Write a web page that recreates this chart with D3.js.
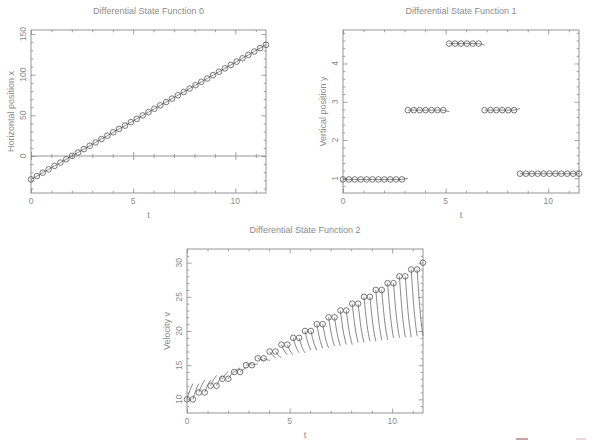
<!DOCTYPE html>
<html>
<head>
<meta charset="utf-8">
<script src="https://cdn.jsdelivr.net/npm/d3@7"></script>
<style>
  body { margin: 0; background: #fff; }
  svg { display: block; font-family: "Liberation Sans", Arial, sans-serif; }
  .lbl { fill: #8c8c8c; }
</style>
</head>
<body>
<svg id="chart" width="598" height="440"></svg>
<script>

// shooting node times
var nodeTimes = [0, 0.2875, 0.575, 0.8625, 1.15, 1.4375, 1.725, 2.0125, 2.3, 2.5875,
                 2.875, 3.1625, 3.45, 3.7375, 4.025, 4.3125, 4.6, 4.8875, 5.175, 5.4625,
                 5.75, 6.0375, 6.325, 6.6125, 6.9, 7.1875, 7.475, 7.7625, 8.05, 8.3375,
                 8.625, 8.9125, 9.2, 9.4875, 9.775, 10.0625, 10.35, 10.6375, 10.925, 11.2125, 11.5];

// state 0 : horizontal position x
var posX = [-28.8, -24.7, -20.5, -16.4, -12.2, -8.1, -4.0, 0.2, 4.3, 8.5,
            12.6, 16.7, 20.9, 25.0, 29.2, 33.3, 37.4, 41.6, 45.7, 49.9,
            54.0, 58.1, 62.3, 66.4, 70.6, 74.7, 78.8, 83.0, 87.1, 91.3,
            95.4, 99.5, 103.7, 107.8, 112.0, 116.1, 120.2, 124.4, 128.5, 132.7, 136.8];

// state 1 : vertical position y
var posY = [0.97, 0.97, 0.97, 0.97, 0.97, 0.97, 0.97, 0.97, 0.97, 0.97, 0.97,
            2.78, 2.78, 2.78, 2.78, 2.78, 2.78, 2.78,
            4.52, 4.52, 4.52, 4.52, 4.52, 4.52,
            2.78, 2.78, 2.78, 2.78, 2.78, 2.78,
            1.12, 1.12, 1.12, 1.12, 1.12, 1.12, 1.12, 1.12, 1.12, 1.12, 1.12];
// trajectory ends that do not meet the next node
var posYTailIdx = [10, 17, 23, 29];
var posYTailEnd = [1.0, 2.74, 4.48, 2.82];

// state 2 : velocity v
var velocity = [10, 10, 11, 11, 12, 12, 13, 13, 14, 14, 15, 15, 16, 16, 17, 17, 18, 18, 19, 19,
                20, 20, 21, 21, 22, 22, 23, 23, 24, 24, 25, 25, 26, 26, 27, 27, 28, 28, 29, 29, 30];
var velMid = [11.33, 11.33, 12.04, 12.04, 12.87, 12.87, 13.64, 13.64, 14.35, 14.35,
              15.12, 15.12, 15.81, 15.81, 16.44, 16.44, 17.07, 17.07, 17.64, 17.64,
              18.26, 18.26, 18.83, 18.83, 19.40, 19.40, 19.90, 19.90, 20.47, 20.47,
              20.97, 20.97, 21.47, 21.47, 22.04, 22.04, 22.48, 22.48, 22.99, 22.99];
var velEnd = [12.3, 12.3, 12.8, 12.8, 13.5, 13.5, 14.1, 14.1, 14.6, 14.6,
              15.2, 15.2, 15.7, 15.7, 16.1, 16.1, 16.5, 16.5, 16.8, 16.8,
              17.2, 17.2, 17.5, 17.5, 17.8, 17.8, 18.0, 18.0, 18.3, 18.3,
              18.5, 18.5, 18.7, 18.7, 19.0, 19.0, 19.1, 19.1, 19.3, 19.3];

var tMajor = [0, 5, 10];
var tMinor = [1, 2, 3, 4, 6, 7, 8, 9, 11];

var svg = d3.select('#chart');
var axisColor = '#8a8a8a';
var dataColor = '#555';

function tickAxis(axisFn, scale, vals, size)
{
  return axisFn(scale).tickValues(vals).tickSize(size).tickFormat('');
}

function styleAxis(sel)
{
  sel.select('.domain').remove();
  sel.selectAll('line').attr('stroke', axisColor).attr('stroke-width', 0.8);
}

function drawPanel(cfg)
{
  var g = svg.append('g').attr('transform', 'translate(' + cfg.left + ',' + cfg.top + ')');
  var x = d3.scaleLinear().domain([0, 11.5]).range([0, cfg.width]);
  var y = d3.scaleLinear().domain(cfg.yDomain).range([cfg.height, 0]);

  // frame with inward ticks on all four sides
  g.append('rect')
   .attr('width', cfg.width).attr('height', cfg.height)
   .attr('fill', 'none').attr('stroke', axisColor).attr('stroke-width', 0.9);

  [[tMajor, 4.5], [tMinor, 2.3]].forEach(function(t) {
    g.append('g').attr('transform', 'translate(0,' + cfg.height + ')')
     .call(tickAxis(d3.axisBottom, x, t[0], -t[1])).call(styleAxis);
    g.append('g').call(tickAxis(d3.axisTop, x, t[0], -t[1])).call(styleAxis);
  });
  [[cfg.yMajor, 4.5], [cfg.yMinor, 2.3]].forEach(function(t) {
    g.append('g').call(tickAxis(d3.axisLeft, y, t[0], -t[1])).call(styleAxis);
    g.append('g').attr('transform', 'translate(' + cfg.width + ',0)')
     .call(tickAxis(d3.axisRight, y, t[0], -t[1])).call(styleAxis);
  });

  if (cfg.zeroLine)
  {
    var y0 = y(0);
    g.append('line').attr('x1', 0).attr('x2', cfg.width).attr('y1', y0).attr('y2', y0)
     .attr('stroke', axisColor).attr('stroke-width', 0.9);
    [[tMajor, 4], [tMinor, 2]].forEach(function(t) {
      g.append('g').attr('transform', 'translate(0,' + y0 + ')')
       .call(tickAxis(d3.axisBottom, x, t[0], t[1])).call(styleAxis);
      g.append('g').attr('transform', 'translate(0,' + y0 + ')')
       .call(tickAxis(d3.axisTop, x, t[0], t[1])).call(styleAxis);
    });
  }

  // tick labels
  g.selectAll('.xlab').data(tMajor).enter().append('text')
   .attr('class', 'lbl').attr('x', d => x(d)).attr('y', cfg.height + 11)
   .attr('text-anchor', 'middle').attr('font-size', 8.5).text(d => d);

  g.selectAll('.ylab').data(cfg.yMajor).enter().append('text')
   .attr('class', 'lbl')
   .attr('transform', d => 'translate(-5,' + y(d) + ') rotate(-90)')
   .attr('text-anchor', 'middle').attr('font-size', 8.5).text(d => d);

  // titles
  g.append('text').attr('class', 'lbl')
   .attr('x', cfg.width / 2).attr('y', -16)
   .attr('text-anchor', 'middle').attr('font-size', 9).text(cfg.title);
  g.append('text').attr('class', 'lbl')
   .attr('x', cfg.width / 2).attr('y', cfg.height + 25)
   .attr('text-anchor', 'middle').attr('font-size', 9).text('t');
  g.append('text').attr('class', 'lbl')
   .attr('transform', 'translate(-17,' + cfg.height / 2 + ') rotate(-90)')
   .attr('text-anchor', 'middle').attr('font-size', 9).text(cfg.yTitle);

  // trajectory pieces from each node
  var line = d3.line().x(d => x(d[0])).y(d => y(d[1])).curve(d3.curveNatural);
  var pieces = d3.range(nodeTimes.length - 1).map(function(i) {
    var t0 = nodeTimes[i], t1 = nodeTimes[i + 1];
    var pts = [[t0, cfg.values[i]]];
    if (cfg.mids) pts.push([(t0 + t1) / 2, cfg.mids[i]]);
    pts.push([t1, cfg.ends[i]]);
    return pts;
  });

  g.selectAll('.piece').data(pieces).enter().append('path')
   .attr('d', line).attr('fill', 'none')
   .attr('stroke', dataColor).attr('stroke-width', 0.7);

  g.selectAll('.node').data(cfg.values).enter().append('circle')
   .attr('cx', (d, i) => x(nodeTimes[i])).attr('cy', d => y(d)).attr('r', 2.8)
   .attr('fill', 'none').attr('stroke', dataColor).attr('stroke-width', 0.8);
}

var posXEnd = posX.slice(1);
var posYEnd = posY.slice(1).map(function(v, i) {
  var k = posYTailIdx.indexOf(i);
  return k >= 0 ? posYTailEnd[k] : v;
});

drawPanel({
  left: 31, top: 30, width: 235, height: 163,
  yDomain: [-45.5, 155],
  yMajor: [0, 50, 100, 150],
  yMinor: [-40, -30, -20, -10, 10, 20, 30, 40, 60, 70, 80, 90, 110, 120, 130, 140],
  zeroLine: true,
  title: 'Differential State Function 0',
  yTitle: 'Horizontal position x',
  values: posX, ends: posXEnd
});

drawPanel({
  left: 343, top: 30, width: 236, height: 163,
  yDomain: [0.615, 4.875],
  yMajor: [1, 2, 3, 4],
  yMinor: [0.8, 1.2, 1.4, 1.6, 1.8, 2.2, 2.4, 2.6, 2.8, 3.2, 3.4, 3.6, 3.8, 4.2, 4.4, 4.6, 4.8],
  title: 'Differential State Function 1',
  yTitle: 'Vertical position y',
  values: posY, ends: posYEnd
});

drawPanel({
  left: 187, top: 249, width: 236, height: 164,
  yDomain: [8, 32],
  yMajor: [10, 15, 20, 25, 30],
  yMinor: [9, 11, 12, 13, 14, 16, 17, 18, 19, 21, 22, 23, 24, 26, 27, 28, 29, 31],
  title: 'Differential State Function 2',
  yTitle: 'Velocity v',
  values: velocity, ends: velEnd, mids: velMid
});

// stray marks at the bottom edge of the capture
svg.append('rect').attr('x', 516).attr('y', 438).attr('width', 12).attr('height', 2).attr('fill', '#c4a2a2');
svg.append('rect').attr('x', 576).attr('y', 438).attr('width', 10).attr('height', 2).attr('fill', '#ecd8d8');

</script>
</body>
</html>
